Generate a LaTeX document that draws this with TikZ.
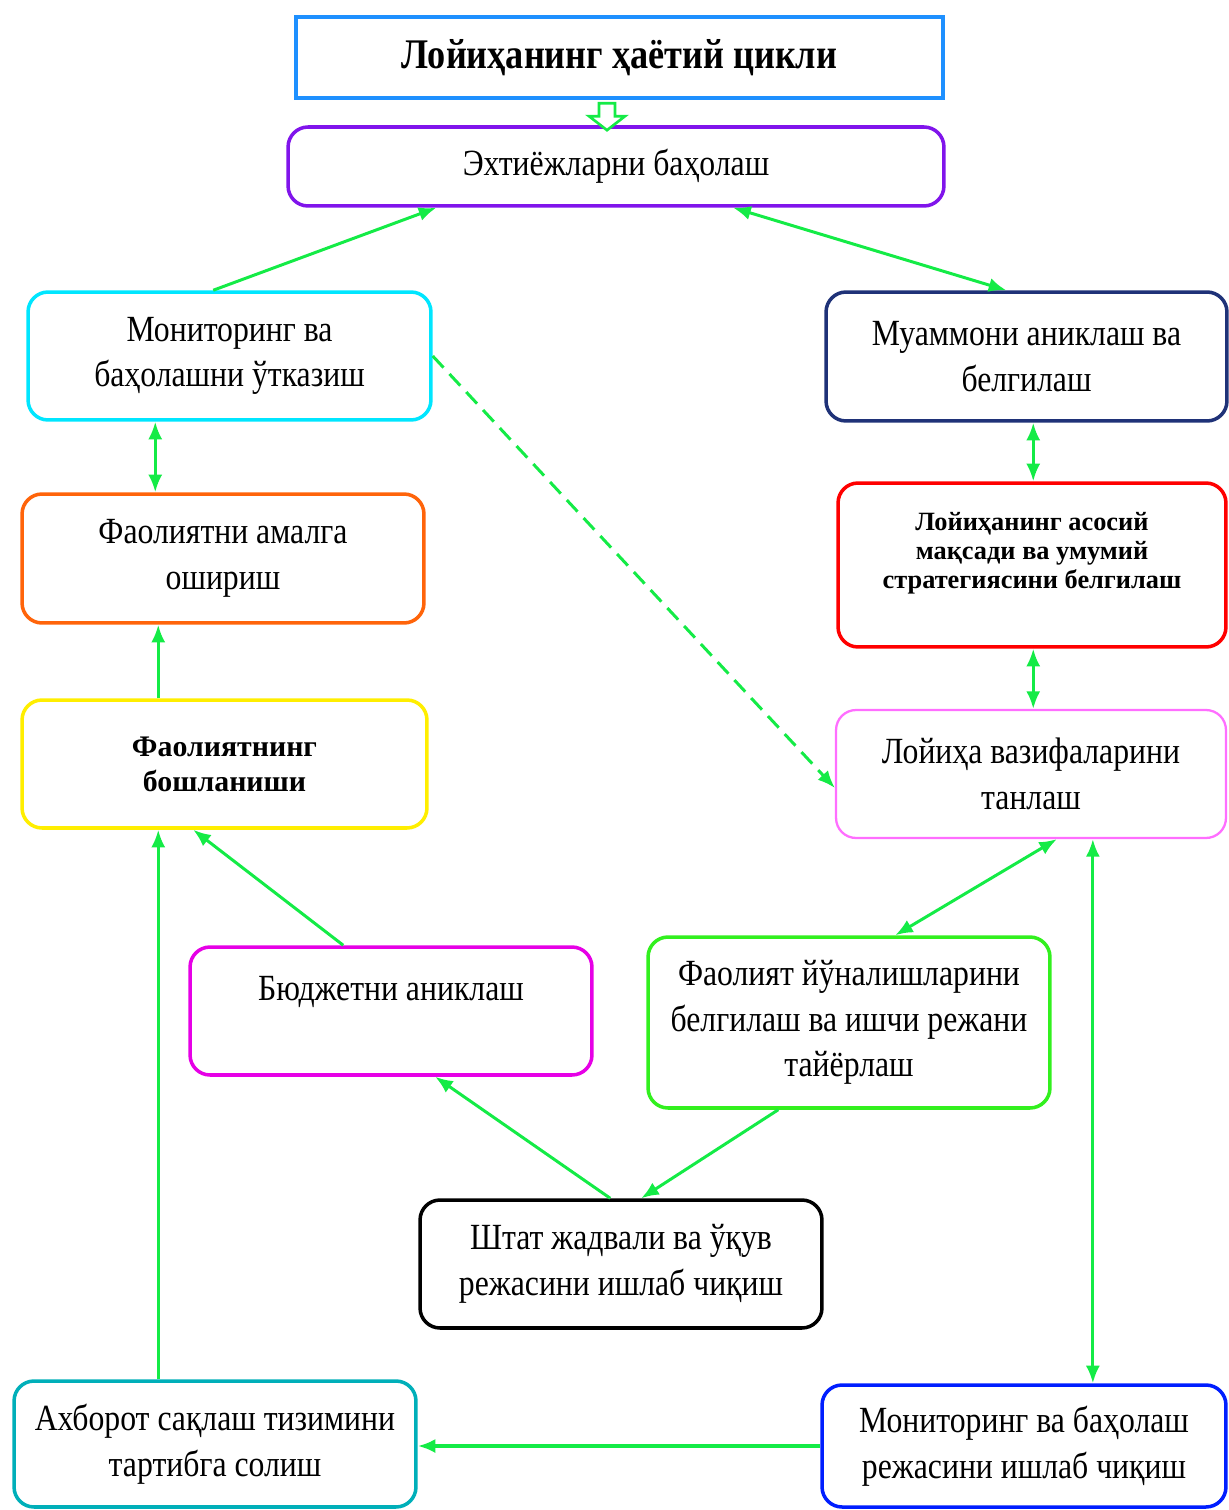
\documentclass[tikz,border=0pt]{standalone}
\usepackage{fontspec}
\setmainfont{Liberation Serif}[FakeStretch=0.86]
\newfontfamily\plainserif{Liberation Serif}
\usetikzlibrary{calc}
\usetikzlibrary{arrows.meta}
\definecolor{titleblue}{RGB}{30,144,255}
\definecolor{needviolet}{RGB}{128,20,235}
\definecolor{moncyan}{RGB}{0,230,255}
\definecolor{probnavy}{RGB}{31,50,120}
\definecolor{doorange}{RGB}{255,100,10}
\definecolor{aimred}{RGB}{255,0,0}
\definecolor{startyellow}{RGB}{255,238,0}
\definecolor{taskpink}{RGB}{255,110,255}
\definecolor{budgetmagenta}{RGB}{230,0,230}
\definecolor{planlime}{RGB}{50,240,30}
\definecolor{infoteal}{RGB}{0,175,185}
\definecolor{evalblue}{RGB}{0,30,255}
\definecolor{linkgreen}{RGB}{20,235,70}
\begin{document}
\begin{tikzpicture}[>={Latex[length=10pt,width=8pt]},x=0.02cm,y=-0.02cm,
                    stage/.style={draw=#1,line width=2pt,rounded corners=0.4cm,align=center,
                        inner sep=0pt,fill=white,font=\fontsize{21}{26}\selectfont},
                    link/.style={linkgreen,line width=1.7pt}]
                        \useasboundingbox (0,0) rectangle (1229,1510);
                        \node[stage=titleblue,rounded corners=0pt,line width=2.5pt,minimum width=12.94cm,minimum height=1.62cm,
                            font=\bfseries\fontsize{24}{28}\selectfont] (cycle) at (619.5,57.5) {Лойиҳанинг ҳаётий цикли};
                        \node[stage=needviolet,minimum width=13.12cm,minimum height=1.58cm] (needs) at (616,166.5) {Эхтиёжларни баҳолаш};
                        \node[stage=moncyan,minimum width=8.06cm,minimum height=2.56cm] (mon) at (229.5,356) {Мониторинг ва\\баҳолашни ўтказиш};
                        \node[stage=probnavy,minimum width=8.02cm,minimum height=2.58cm] (prob) at (1026.5,356.5) {Муаммони аниклаш ва\\белгилаш};
                        \node[stage=doorange,minimum width=8.04cm,minimum height=2.58cm] (do) at (223,558.5) {Фаолиятни амалга\\ошириш};
                        \node[stage=aimred,minimum width=7.76cm,minimum height=3.28cm,
                            font=\plainserif\bfseries\fontsize{15}{16.5}\selectfont] (aim) at (1032,565) {Лойиҳанинг асосий\\мақсади ва умумий\\стратегиясини белгилаш\\~};
                        \node[stage=startyellow,minimum width=8.1cm,minimum height=2.56cm,
                            font=\plainserif\bfseries\fontsize{17}{20}\selectfont] (start) at (224.5,764) {Фаолиятнинг\\бошланиши};
                        \node[stage=taskpink,line width=1.3pt,minimum width=7.8cm,minimum height=2.56cm] (task) at (1031,774) {Лойиҳа вазифаларини\\танлаш};
                        \node[stage=budgetmagenta,minimum width=8.04cm,minimum height=2.56cm] (budget) at (391,1011) {Бюджетни аниклаш\\~};
                        \node[stage=planlime,minimum width=8.04cm,minimum height=3.42cm] (plan) at (849,1022.5) {Фаолият йўналишларини\\белгилаш ва ишчи режани\\тайёрлаш};
                        \node[stage=black,minimum width=8.04cm,minimum height=2.56cm] (staff) at (621,1264) {Штат жадвали ва ўқув\\режасини ишлаб чиқиш};
                        \node[stage=infoteal,minimum width=8.04cm,minimum height=2.52cm] (info) at (215,1444) {Ахборот сақлаш тизимини\\тартибга солиш};
                        \node[stage=evalblue,minimum width=8.08cm,minimum height=2.44cm] (eval) at (1024,1446) {Мониторинг ва баҳолаш\\режасини ишлаб чиқиш};
                        \draw[linkgreen,line width=1.5pt,fill=white] ([xshift=-0.41cm,yshift=-0.06cm]cycle.south)
                            -- ++(0,13) -- ++(-10,0) -- ++(18,14) -- ++(18,-14) -- ++(-10,0) -- ++(0,-13) -- cycle;
                        \draw[link,->] ([xshift=3.74cm]mon.north west) -- ([xshift=3cm]needs.south west);
                        \draw[link,<->] ([xshift=8.94cm]needs.south west) -- ([xshift=3.64cm]prob.north west);
                        \draw[link,<->] ([xshift=2.58cm]mon.south west) coordinate (m) -- (m |- do.north);
                        \draw[link,->] ([xshift=2.76cm]start.north west) coordinate (s) -- (s |- do.south);
                        \draw[link,<->] ([xshift=4.18cm]prob.south west) coordinate (p) -- (p |- aim.north);
                        \draw[link,<->] ([xshift=3.94cm]aim.south west) coordinate (a) -- (a |- task.north);
                        \draw[link,->,dashed,dash pattern=on 9pt off 5pt] (mon.east) -- ([yshift=-0.28cm]task.west);
                        \draw[link,<->] ([xshift=4.44cm]task.south west) -- ([xshift=4.98cm]plan.north west);
                        \draw[link,->] ([xshift=3.1cm]budget.north west) -- ([xshift=3.46cm]start.south west);
                        \draw[link,->] ([xshift=3.84cm]staff.north west) -- ([xshift=4.94cm]budget.south west);
                        \draw[link,->] ([xshift=2.64cm]plan.south west) -- ([xshift=4.46cm]staff.north west);
                        \draw[link,<->] ([xshift=5.16cm]task.south west) coordinate (t) -- (t |- eval.north);
                        \draw[link,->,line width=2.4pt] (eval.west) -- (eval.west -| info.east);
                        \draw[link,->] ([xshift=2.92cm]info.north west) coordinate (i) -- (i |- start.south);
                    \end{tikzpicture}
\end{document}
